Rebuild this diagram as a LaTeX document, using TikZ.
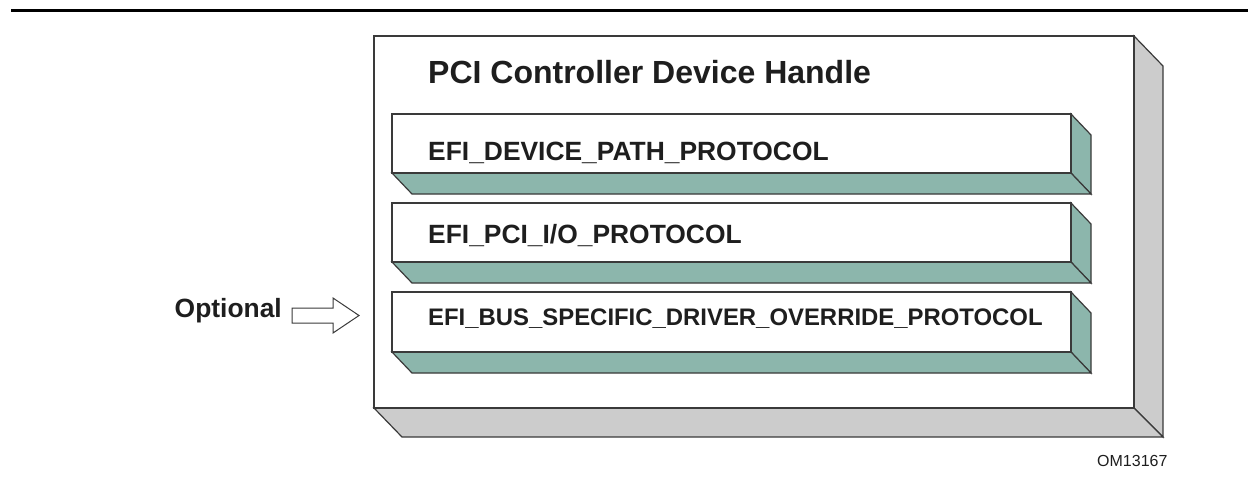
\documentclass[tikz,border=0pt]{standalone}
\usepackage{fontspec}
\setmainfont{Liberation Sans}
\definecolor{teal3d}{HTML}{8CB6AC}
\definecolor{gray3d}{HTML}{CCCCCC}
\definecolor{edge}{HTML}{3A3A3A}
\definecolor{ink}{HTML}{1E1E1E}
\tikzset{
  face/.style={draw=edge, line width=1.2pt, fill=white, line join=miter},
  tealface/.style={draw=edge, line width=1.2pt, fill=teal3d, line join=miter},
  grayface/.style={draw=edge, line width=1.2pt, fill=gray3d, line join=miter},
  proto/.style={anchor=base west, inner sep=0pt, text=ink, font=\bfseries\fontsize{26.4}{30}\selectfont},
  title/.style={anchor=base west, inner sep=0pt, text=ink, font=\bfseries\fontsize{32}{38}\selectfont},
  blockarrow/.style={draw=edge, line width=1pt, fill=white, line join=miter}
}
\begin{document}
\begin{tikzpicture}[x=1pt,y=-1pt]
\useasboundingbox (0,0) rectangle (1259,480);
% top rule
\draw[line width=3pt, black] (11,10.5) -- (1248,10.5);
% outer handle box
\coordinate (oTL) at (374,36);
\coordinate (oBR) at (1134,408);
\draw[grayface] (1134,36) -- (1163,66) -- (1163,437) -- (1134,408) -- cycle;
\draw[grayface] (374,408) -- (1134,408) -- (1163,437) -- (402,437) -- cycle;
\draw[face] (oTL) rectangle (oBR);
\node[title] (title) at (428,83) {PCI Controller Device Handle};
% protocol boxes
\foreach \t/\b/\n in {114/173/p1, 203/262/p2, 292/352/p3}{
  \draw[tealface] (1071,\t) -- (1091,\t+21) -- (1091,\b+21) -- (1071,\b) -- cycle;
  \draw[tealface] (392,\b) -- (1071,\b) -- (1091,\b+21) -- (412,\b+21) -- cycle;
  \draw[face] (392,\t) rectangle (1071,\b);
}
\node[proto] (dp) at (428,160) {EFI\_DEVICE\_PATH\_PROTOCOL};
\node[proto] (pio) at (428,243) {EFI\_PCI\_I/O\_PROTOCOL};
\node[proto, font=\bfseries\fontsize{23.9}{28}\selectfont] (bso) at (428,325) {EFI\_BUS\_SPECIFIC\_DRIVER\_OVERRIDE\_PROTOCOL};
% optional marker
\node[proto, anchor=base east] (opt) at (282,317) {Optional};
\draw[blockarrow] (292,308) -- (333,308) -- (333,298) -- (359,315.5) -- (333,333) -- (333,323) -- (292,323) -- cycle;
% figure id
\node[anchor=base west, inner sep=0pt, text=ink, font=\fontsize{16}{19}\selectfont] (fig) at (1097,466) {OM13167};
\end{tikzpicture}
\end{document}
